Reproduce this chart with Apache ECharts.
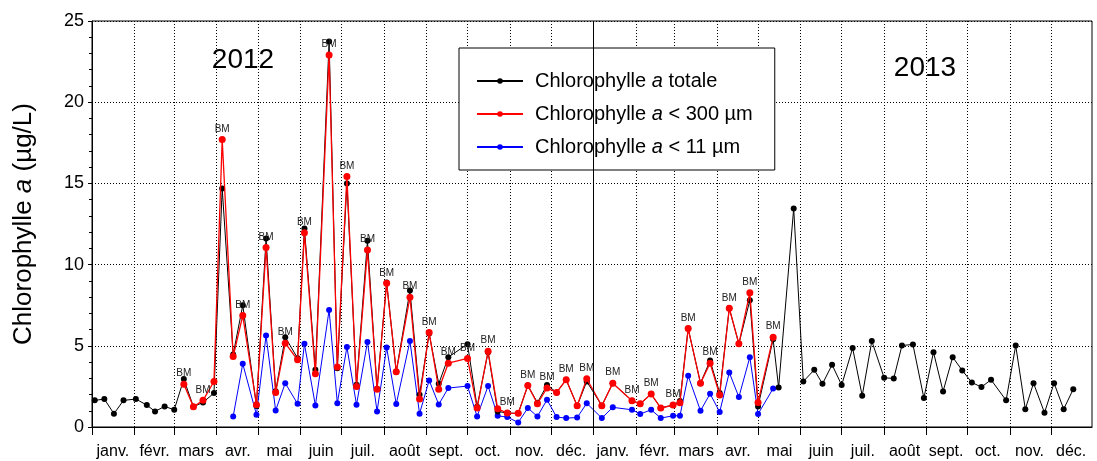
<!DOCTYPE html>
<html>
<head>
<meta charset="utf-8">
<script src="https://cdn.jsdelivr.net/npm/echarts@6/dist/echarts.min.js"></script>
<style>
  html, body { margin: 0; padding: 0; background: #fff; }
  #chart { width: 1097px; height: 461px; }
</style>
</head>
<body>
<div id="chart"></div>
<script>
const FONT = "'Liberation Sans', Arial, sans-serif";

const monthLabels = ['janv.', 'févr.', 'mars', 'avr.', 'mai', 'juin', 'juil.', 'août', 'sept.', 'oct.', 'nov.', 'déc.'];
const years = [2012, 2013];

const dates = [
  '2012-01-03', '2012-01-10', '2012-01-17', '2012-01-24', '2012-02-02', '2012-02-10', '2012-02-16', '2012-02-23',
  '2012-03-01', '2012-03-08', '2012-03-15', '2012-03-22', '2012-03-30', '2012-04-05', '2012-04-13', '2012-04-20',
  '2012-04-30', '2012-05-07', '2012-05-14', '2012-05-21', '2012-05-30', '2012-06-04', '2012-06-12', '2012-06-22',
  '2012-06-28', '2012-07-05', '2012-07-12', '2012-07-20', '2012-07-27', '2012-08-03', '2012-08-10', '2012-08-20',
  '2012-08-27', '2012-09-03', '2012-09-10', '2012-09-17', '2012-10-01', '2012-10-08', '2012-10-16', '2012-10-23',
  '2012-10-30', '2012-11-07', '2012-11-14', '2012-11-21', '2012-11-28', '2012-12-05', '2012-12-12', '2012-12-20',
  '2012-12-27',
  '2013-01-07', '2013-01-15', '2013-01-29', '2013-02-04', '2013-02-12', '2013-02-19', '2013-02-28', '2013-03-05',
  '2013-03-11', '2013-03-20', '2013-03-27', '2013-04-03', '2013-04-10', '2013-04-17', '2013-04-25', '2013-05-01',
  '2013-05-12', '2013-05-16', '2013-05-27', '2013-06-03', '2013-06-11', '2013-06-17', '2013-06-24', '2013-07-01',
  '2013-07-09', '2013-07-16', '2013-07-23', '2013-08-01', '2013-08-08', '2013-08-14', '2013-08-22', '2013-08-30',
  '2013-09-06', '2013-09-13', '2013-09-20', '2013-09-27', '2013-10-04', '2013-10-11', '2013-10-18', '2013-10-29',
  '2013-11-05', '2013-11-12', '2013-11-18', '2013-11-26', '2013-12-03', '2013-12-10', '2013-12-17'
];

// Chlorophylle a totale
const totale = [
  1.64, 1.72, 0.82, 1.64, 1.72, 1.35, 0.96, 1.27,
  1.06, 2.95, 1.25, 1.51, 2.09, 14.69, 4.46, 7.5,
  1.3, 11.61, 2.2, 5.53, 4.24, 12.23, 3.52, 23.74,
  3.62, 15.0, 2.6, 11.47, 2.35, 8.9, 3.4, 8.4,
  1.99, 5.75, 2.66, 4.3, 5.1, 1.25, 4.6, 0.96,
  0.86, 0.84, 2.56, 1.5, 2.58, 2.13, 2.91, 1.31,
  2.8,
  1.31, 2.7, 1.62, 1.43, 2.03, 1.17, 1.35, 1.6,
  6.06, 2.7, 4.09, 2.1, 7.31, 5.12, 7.8, 1.27,
  5.4, 2.43, 13.46, 2.8, 3.52, 2.66, 3.83, 2.58,
  4.86, 1.92, 5.29, 3.03, 2.99, 5.02, 5.08, 1.78,
  4.61, 2.19, 4.3, 3.48, 2.74, 2.46, 2.91, 1.64,
  5.02, 1.1, 2.7, 0.88, 2.7, 1.1, 2.33
];

// Chlorophylle a < 300 µm
const inf300 = [
  null, null, null, null, null, null, null, null,
  null, 2.64, 1.25, 1.64, 2.8, 17.7, 4.34, 6.86,
  1.37, 11.06, 2.13, 5.16, 4.14, 11.96, 3.28, 22.9,
  3.69, 15.43, 2.5, 10.9, 2.33, 8.85, 3.4, 7.99,
  1.72, 5.82, 2.33, 3.93, 4.22, 1.17, 4.67, 1.12,
  0.86, 0.84, 2.56, 1.43, 2.4, 2.13, 2.91, 1.31,
  2.97,
  1.31, 2.7, 1.62, 1.43, 2.03, 1.17, 1.35, 1.49,
  6.06, 2.7, 3.93, 1.97, 7.31, 5.12, 8.27, 1.51,
  5.53, null, null, null, null, null, null, null,
  null, null, null, null, null, null, null, null,
  null, null, null, null, null, null, null, null,
  null, null, null, null, null, null, null
];

// Chlorophylle a < 11 µm
const inf11 = [
  null, null, null, null, null, null, null, null,
  null, null, null, null, null, null, 0.65, 3.89,
  0.76, 5.63, 1.02, 2.7, 1.43, 5.12, 1.33, 7.21,
  1.47, 4.92, 1.37, 5.24, 0.96, 4.89, 1.41, 5.3,
  0.82, 2.87, 1.39, 2.4, 2.52, 0.65, 2.52, 0.69,
  0.61, 0.28, 1.17, 0.65, 1.68, 0.61, 0.55, 0.58,
  1.46,
  0.55, 1.21, 1.06, 0.8, 1.06, 0.55, 0.69, 0.69,
  3.15, 1.0, 2.05, 0.92, 3.36, 1.84, 4.3, 0.8,
  2.37, null, null, null, null, null, null, null,
  null, null, null, null, null, null, null, null,
  null, null, null, null, null, null, null, null,
  null, null, null, null, null, null, null
];

// dates flagged "BM"
const bmDates = [
  '2012-03-08', '2012-03-22', '2012-04-05', '2012-04-20', '2012-05-07', '2012-05-21', '2012-06-04',
  '2012-06-22', '2012-07-05', '2012-07-20', '2012-08-03', '2012-08-20', '2012-09-03', '2012-09-17',
  '2012-10-01', '2012-10-16', '2012-10-30', '2012-11-14', '2012-11-28', '2012-12-12', '2012-12-27',
  '2013-01-15', '2013-01-29', '2013-02-12', '2013-02-28', '2013-03-11', '2013-03-27', '2013-04-10',
  '2013-04-25', '2013-05-12'
];

const seriesNames = ['Chlorophylle a totale', 'Chlorophylle a < 300 µm', 'Chlorophylle a < 11 µm'];

function pairs(values) {
  return dates.map((d, i) => [d, values[i]]).filter(p => p[1] !== null);
}

// month boundaries (ticks + dotted grid) and one label per month
const monthStarts = [];
const monthNames = [];
years.forEach(y => {
  for (let m = 0; m < 12; m++) {
    monthStarts.push(new Date(y, m, 1).getTime());
    monthNames.push(monthLabels[m]);
  }
});

const chart = echarts.init(document.getElementById('chart'), null, { renderer: 'canvas' });

chart.setOption({
  animation: false,
  backgroundColor: '#fff',
  textStyle: { fontFamily: FONT },
  grid: {
    left: 92,
    right: 5,
    top: 21,
    bottom: 34,
    show: true,
    borderColor: '#000',
    borderWidth: 1,
    backgroundColor: 'transparent'
  },
  legend: {
    left: 459,
    top: 48,
    orient: 'vertical',
    backgroundColor: '#fff',
    borderColor: '#000',
    borderWidth: 1,
    borderRadius: 0,
    padding: [23, 22, 13, 17],
    itemGap: 13,
    itemWidth: 46,
    itemHeight: 7,
    data: seriesNames,
    formatter: name => {
      const parts = name.split(' a ');
      return '{g|}{n|' + parts[0] + ' }{i|a}{n| ' + parts[1] + '}';
    },
    textStyle: {
      fontFamily: FONT,
      fontSize: 20,
      color: '#000',
      rich: {
        g: { width: 7 },
        n: { fontFamily: FONT, fontSize: 20, color: '#000' },
        i: { fontFamily: FONT, fontSize: 20, color: '#000', fontStyle: 'italic' }
      }
    }
  },
  xAxis: [
    {
      type: 'time',
      min: new Date(2012, 0, 1).getTime(),
      max: new Date(2013, 11, 30, 16).getTime(),
      axisLine: { show: true, lineStyle: { color: '#000', width: 1 } },
      axisTick: {
        show: true,
        customValues: monthStarts,
        length: 8,
        lineStyle: { color: '#000' }
      },
      axisLabel: { show: false },
      splitLine: {
        show: true,
        lineStyle: { color: '#000', type: [1, 2], width: 1 }
      }
    },
    {
      type: 'category',
      position: 'bottom',
      data: monthNames,
      boundaryGap: true,
      axisLine: { show: false },
      axisTick: { show: false },
      splitLine: { show: false },
      axisLabel: {
        interval: 0,
        fontFamily: FONT,
        fontSize: 16,
        color: '#000',
        margin: 17
      }
    }
  ],
  yAxis: {
    type: 'value',
    min: 0,
    max: 25,
    interval: 5,
    name: '{n|Chlorophylle }{i|a}{n| (µg/L)}',
    nameLocation: 'middle',
    nameGap: 55,
    nameTextStyle: {
      rich: {
        n: { fontFamily: FONT, fontSize: 26, color: '#000' },
        i: { fontFamily: FONT, fontSize: 26, color: '#000', fontStyle: 'italic' }
      }
    },
    axisLine: { show: true, lineStyle: { color: '#000', width: 1 } },
    axisTick: { show: true, inside: false, length: 4, lineStyle: { color: '#000' } },
    minorTick: { show: true, splitNumber: 5, length: 3, lineStyle: { color: '#000' } },
    axisLabel: { fontFamily: FONT, fontSize: 18, color: '#000', margin: 8 },
    splitLine: { show: true, lineStyle: { color: '#000', type: [1, 2], width: 1 } }
  },
  graphic: [
    {
      type: 'text', x: 243, y: 60, z: 10,
      style: { text: String(years[0]), font: '28px ' + FONT, fill: '#000', align: 'center', verticalAlign: 'middle' }
    },
    {
      type: 'text', x: 925, y: 68, z: 10,
      style: { text: String(years[1]), font: '28px ' + FONT, fill: '#000', align: 'center', verticalAlign: 'middle' }
    }
  ],
  series: [
    {
      name: seriesNames[0],
      type: 'line',
      xAxisIndex: 0,
      data: pairs(totale),
      symbol: 'circle',
      symbolSize: 6,
      itemStyle: { color: '#000' },
      lineStyle: { color: '#000', width: 1 },
      z: 3,
      markLine: {
        silent: true,
        symbol: 'none',
        label: { show: false },
        lineStyle: { color: '#000', type: 'solid', width: 1 },
        data: [{ xAxis: new Date(years[1], 0, 1).getTime() }]
      }
    },
    {
      name: seriesNames[1],
      type: 'line',
      xAxisIndex: 0,
      data: pairs(inf300).map(p => ({
        value: p,
        label: { show: bmDates.includes(p[0]) }
      })),
      symbol: 'circle',
      symbolSize: 7,
      itemStyle: { color: '#ff0000' },
      lineStyle: { color: '#ff0000', width: 1.3 },
      label: {
        position: 'top',
        distance: 2,
        formatter: 'BM',
        fontFamily: FONT,
        fontSize: 10,
        color: '#222'
      },
      z: 4
    },
    {
      name: seriesNames[2],
      type: 'line',
      xAxisIndex: 0,
      data: pairs(inf11),
      symbol: 'circle',
      symbolSize: 6,
      itemStyle: { color: '#0000ff' },
      lineStyle: { color: '#0000ff', width: 1 },
      z: 2
    }
  ]
});
</script>
</body>
</html>
